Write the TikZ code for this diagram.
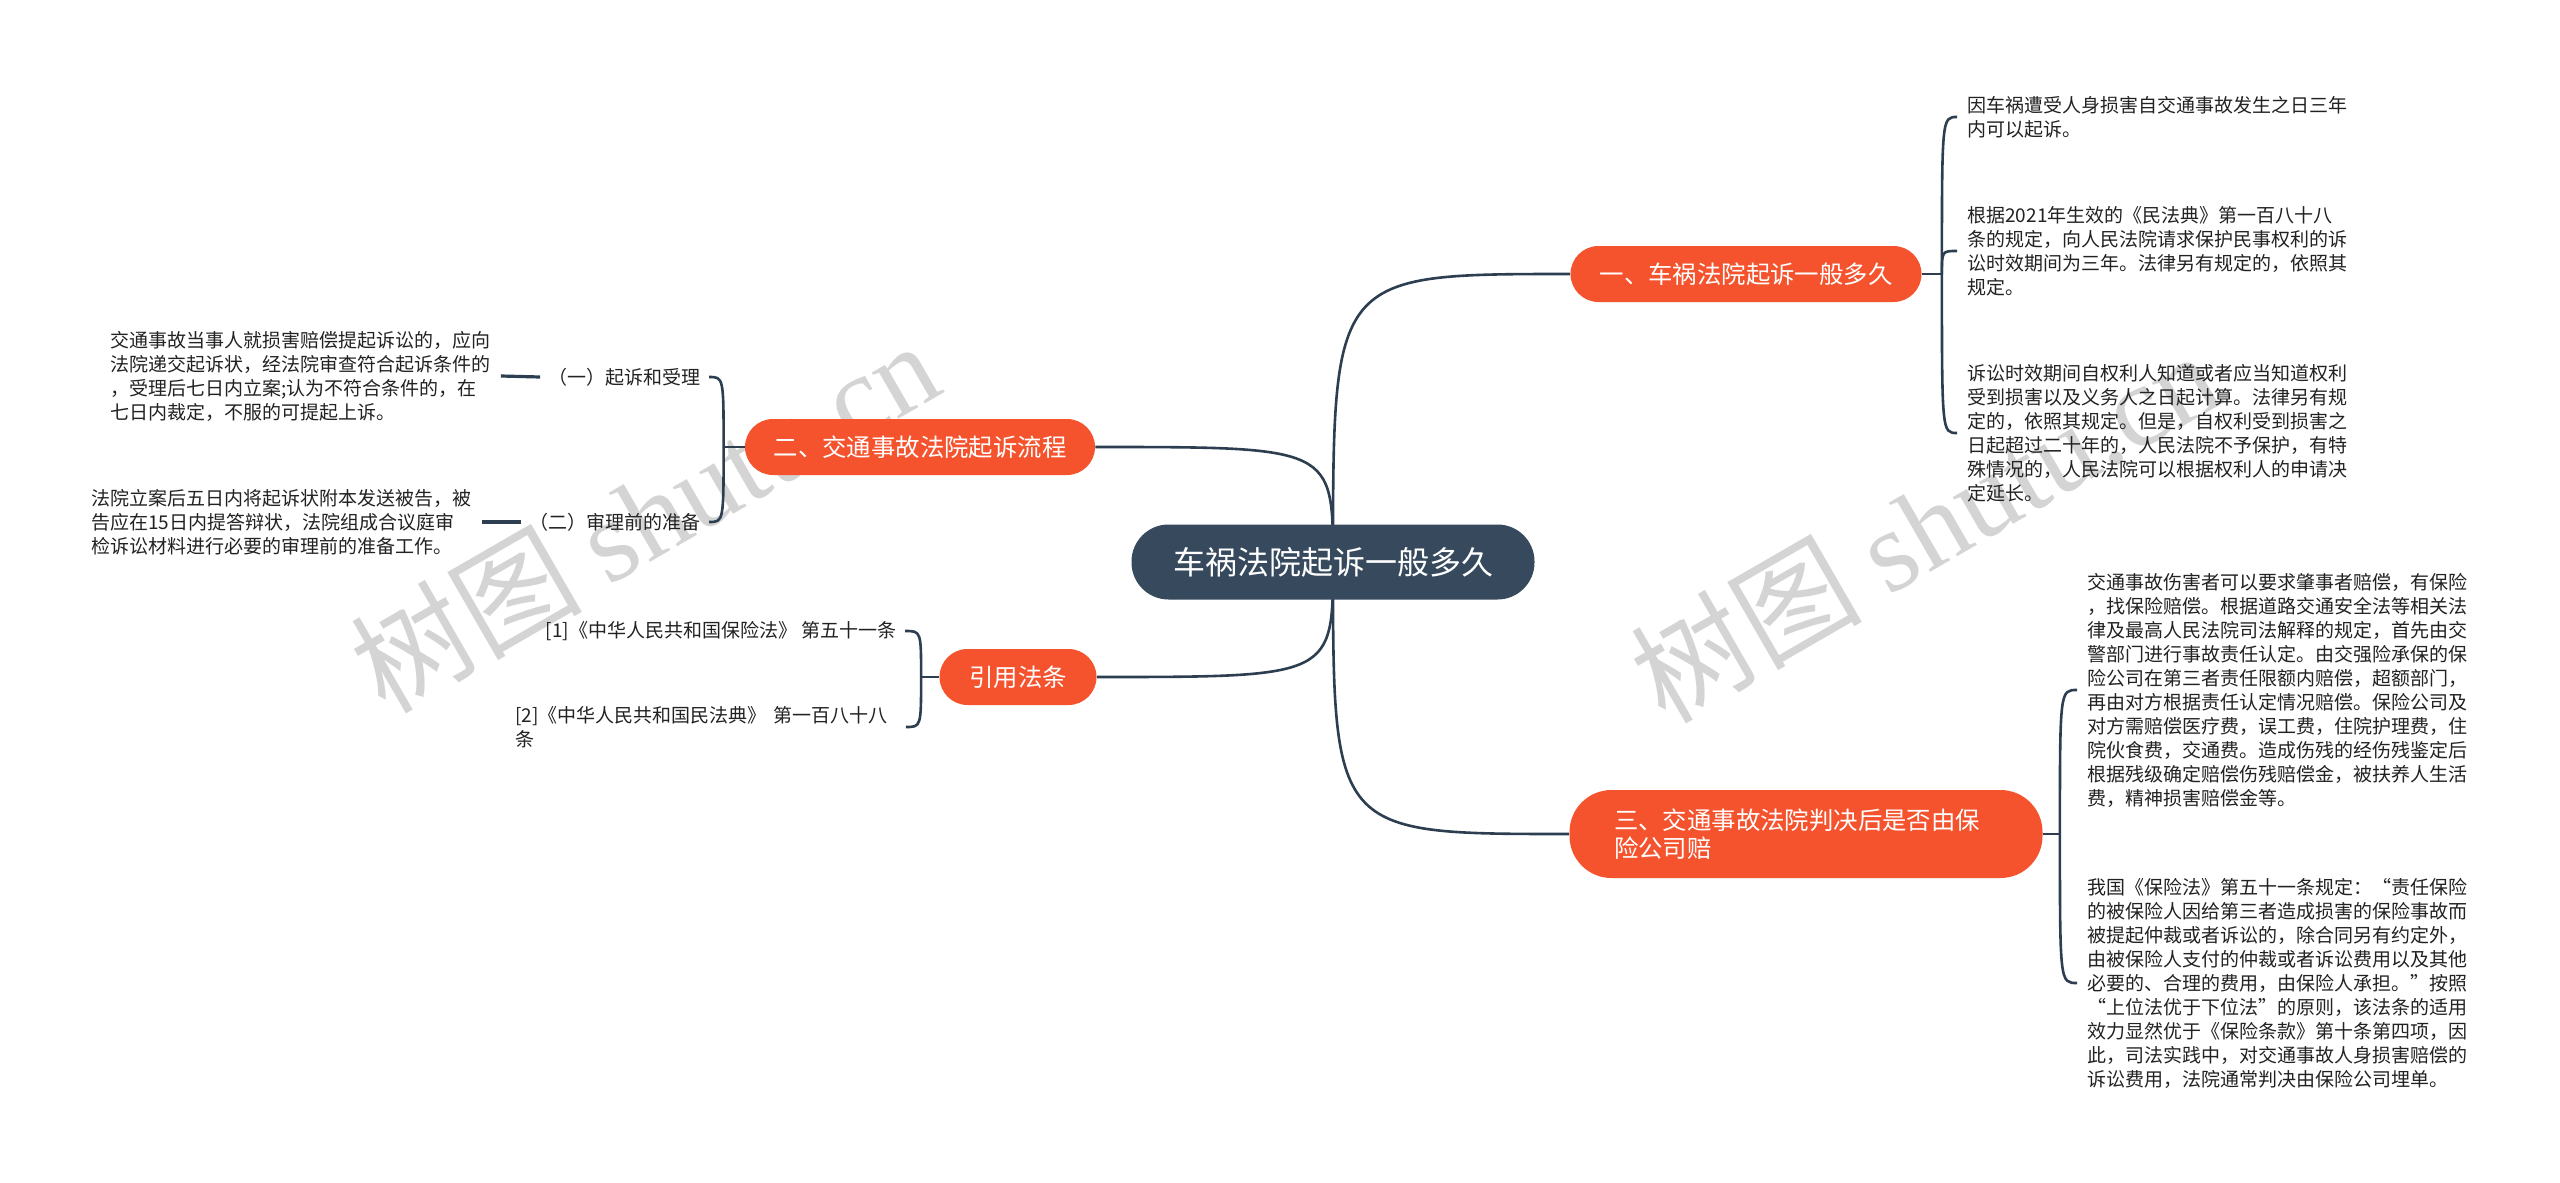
\documentclass[tikz,border=0pt]{standalone}
\usepackage{fontspec}
\setmainfont{Noto Sans CJK SC}
\newfontfamily\wmcjk{Noto Sans CJK SC}
\newfontfamily\wmlat{Liberation Serif}
\definecolor{mainc}{HTML}{36495D}
\definecolor{brc}{HTML}{F4532E}
\definecolor{linec}{HTML}{2C3E50}
\definecolor{txtc}{HTML}{222222}
\definecolor{wmc}{HTML}{D4D4D4}
\pgfdeclarelayer{wmlayer}
\pgfdeclarelayer{bglayer}
\pgfsetlayers{wmlayer,bglayer,main}
\tikzset{
  mainnode/.style={fill=mainc, text=white, rounded corners=18.5pt, minimum width=201.5pt, minimum height=37.5pt, inner sep=0pt, font=\fontsize{16}{19}\selectfont},
  branch/.style={fill=brc, text=white, rounded corners=14pt, minimum height=28pt, inner sep=0pt, font=\fontsize{12.2}{14.2}\selectfont},
  leaf/.style={text=txtc, align=left, inner xsep=5pt, inner ysep=1pt, font=\fontsize{9.5}{12}\selectfont},
  subnode/.style={leaf, inner xsep=4pt},
  conn/.style={draw=linec, line width=1.3pt},
  wmnode/.style={text=wmc, rotate=30, inner sep=0pt, font=\fontsize{58}{58}\selectfont}
}
\begin{document}
\begin{tikzpicture}[x=0.5pt,y=-0.5pt]
\useasboundingbox (0,0) rectangle (2560,1183);
\begin{pgfonlayer}{wmlayer}
\fill[white] (0,0) rectangle (2560,1183);
\node[wmnode] (w1) at (644,515) {{\wmcjk 树图} {\wmlat shutu.cn}};
\node[wmnode] (w2) at (1924,525) {{\wmcjk 树图} {\wmlat shutu.cn}};
\end{pgfonlayer}

% main and branches
\node[mainnode] (m) at (1333,562) {车祸法院起诉一般多久};
\node[branch, minimum width=175.5pt] (b1) at (1746,274) {一、车祸法院起诉一般多久};
\node[branch, minimum width=175pt] (b2) at (920,447) {二、交通事故法院起诉流程};
\node[branch, minimum width=78.5pt] (b3) at (1018,677) {引用法条};
\node[branch, minimum width=236.5pt, minimum height=44pt, rounded corners=21pt, text width=192pt, align=left] (b4) at (1806,834) {三、交通事故法院判决后是否由保\\险公司赔};

% branch 1 leaves
\node[leaf, anchor=west] (c11) at (1957,117) {因车祸遭受人身损害自交通事故发生之日三年\\内可以起诉。};
\node[leaf, anchor=west] (c12) at (1957,251) {根据2021年生效的《民法典》第一百八十八\\条的规定，向人民法院请求保护民事权利的诉\\讼时效期间为三年。法律另有规定的，依照其\\规定。};
\node[leaf, anchor=west] (c13) at (1957,433) {诉讼时效期间自权利人知道或者应当知道权利\\受到损害以及义务人之日起计算。法律另有规\\定的，依照其规定。但是，自权利受到损害之\\日起超过二十年的，人民法院不予保护，有特\\殊情况的，人民法院可以根据权利人的申请决\\定延长。};

% branch 4 leaves
\node[leaf, anchor=west] (c41) at (2077,690) {交通事故伤害者可以要求肇事者赔偿，有保险\\，找保险赔偿。根据道路交通安全法等相关法\\律及最高人民法院司法解释的规定，首先由交\\警部门进行事故责任认定。由交强险承保的保\\险公司在第三者责任限额内赔偿，超额部门，\\再由对方根据责任认定情况赔偿。保险公司及\\对方需赔偿医疗费，误工费，住院护理费，住\\院伙食费，交通费。造成伤残的经伤残鉴定后\\根据残级确定赔偿伤残赔偿金，被扶养人生活\\费，精神损害赔偿金等。};
\node[leaf, anchor=west] (c42) at (2077,983) {我国《保险法》第五十一条规定：“责任保险\\的被保险人因给第三者造成损害的保险事故而\\被提起仲裁或者诉讼的，除合同另有约定外，\\由被保险人支付的仲裁或者诉讼费用以及其他\\必要的、合理的费用，由保险人承担。”按照\\“上位法优于下位法”的原则，该法条的适用\\效力显然优于《保险条款》第十条第四项，因\\此，司法实践中，对交通事故人身损害赔偿的\\诉讼费用，法院通常判决由保险公司埋单。};

% branch 2 sub nodes and leaves
\node[subnode, anchor=east] (s1) at (709,377) {（一）起诉和受理};
\node[subnode, anchor=east] (s2) at (709,522) {（二）审理前的准备};
\node[leaf, anchor=west] (c21) at (100,376) {交通事故当事人就损害赔偿提起诉讼的，应向\\法院递交起诉状，经法院审查符合起诉条件的\\，受理后七日内立案;认为不符合条件的，在\\七日内裁定，不服的可提起上诉。};
\node[leaf, anchor=west] (c22) at (81,522) {法院立案后五日内将起诉状附本发送被告，被\\告应在15日内提答辩状，法院组成合议庭审\\检诉讼材料进行必要的审理前的准备工作。};

% branch 3 leaves
\node[subnode, anchor=east] (r1) at (905,631) {[1]《中华人民共和国保险法》 第五十一条};
\node[subnode, anchor=west, text width=191pt] (r2) at (507,727) {[2]《中华人民共和国民法典》 第一百八十八\\条};

\begin{pgfonlayer}{bglayer}
\draw[conn] (m.center) .. controls (m.center |- b1.west) .. (b1.west);
\draw[conn] (m.center) .. controls (m.center |- b2.east) .. (b2.east);
\draw[conn] (m.center) .. controls (m.center |- b3.east) .. (b3.east);
\draw[conn] (m.center) .. controls (m.center |- b4.west) .. (b4.west);

\coordinate (j1) at ([xshift=10pt]b1.east);
\draw[conn] (b1.east) -- (j1);
\draw[conn] (j1) .. controls (j1 |- c11.west) .. (c11.west);
\draw[conn] (j1) .. controls (j1 |- c12.west) .. (c12.west);
\draw[conn] (j1) .. controls (j1 |- c13.west) .. (c13.west);

\coordinate (j4) at ([xshift=8.5pt]b4.east);
\draw[conn] (b4.east) -- (j4);
\draw[conn] (j4) .. controls (j4 |- c41.west) .. (c41.west);
\draw[conn] (j4) .. controls (j4 |- c42.west) .. (c42.west);

\coordinate (j2) at ([xshift=-10.5pt]b2.west);
\draw[conn] (b2.west) -- (j2);
\draw[conn] (j2) .. controls (j2 |- s1.east) .. (s1.east);
\draw[conn] (j2) .. controls (j2 |- s2.east) .. (s2.east);
\draw[conn, line width=1.6pt] (s1.west) -- (c21.east);
\draw[conn, line width=1.6pt] (s2.west) -- (c22.east);

\coordinate (j3) at ([xshift=-9pt]b3.west);
\draw[conn] (b3.west) -- (j3);
\draw[conn] (j3) .. controls (j3 |- r1.east) .. (r1.east);
\draw[conn] (j3) .. controls (j3 |- r2.east) .. (r2.east);
\end{pgfonlayer}
\end{tikzpicture}
\end{document}
